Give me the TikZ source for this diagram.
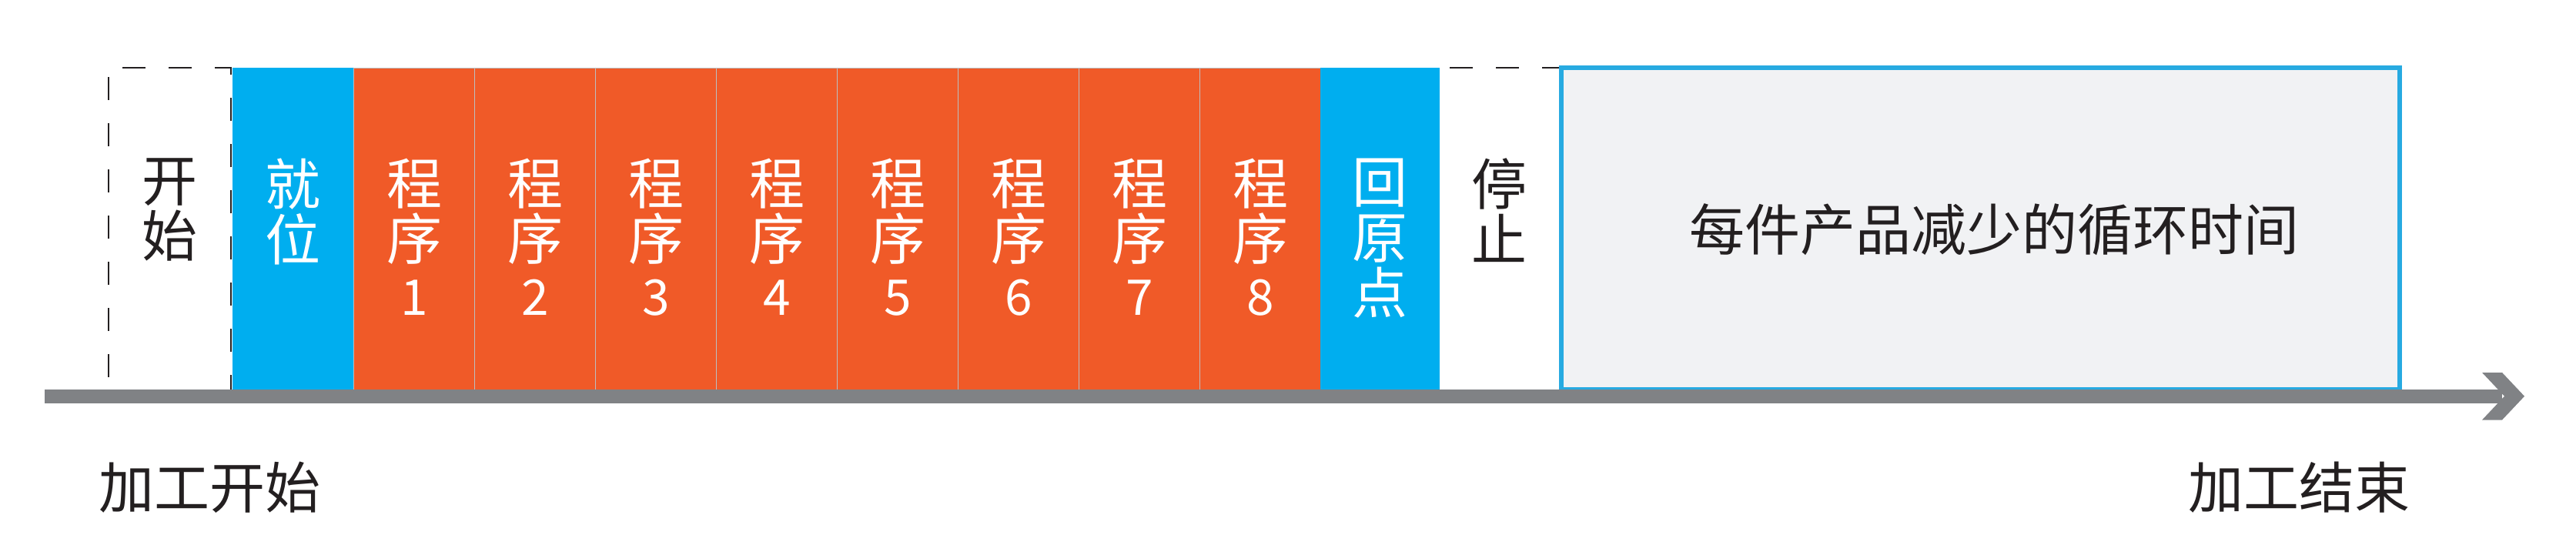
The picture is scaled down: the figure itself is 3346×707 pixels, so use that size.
\documentclass[tikz,border=0pt]{standalone}
\usepackage{fontspec}
\setmainfont{Noto Sans CJK SC}
\definecolor{procorange}{HTML}{F05A28}
\definecolor{stepblue}{HTML}{00AEEF}
\definecolor{axisgray}{HTML}{808285}
\definecolor{savedfill}{HTML}{F1F2F4}
\definecolor{savedline}{HTML}{27AAE1}
\definecolor{inkdark}{HTML}{231F20}
\definecolor{sepgray}{HTML}{BCBEC0}
\tikzset{
  slot/.style={rectangle, inner sep=0, outer sep=0, minimum height=104.5pt},
  procbox/.style={slot, fill=procorange, draw=sepgray, line width=0.25pt, minimum width=39.25pt},
  bluebox/.style={slot, fill=stepblue},
  vlabel/.style={inner sep=0, outer sep=0, anchor=north, align=center, text=white,
    font=\fontsize{18pt}{18pt}\selectfont},
  darklabel/.style={vlabel, text=inkdark},
  dashline/.style={draw=inkdark, line width=0.68pt, dash pattern=on 7.5pt off 7.5pt},
  biglabel/.style={inner sep=0, outer sep=0, text=inkdark, font=\fontsize{18pt}{18pt}\selectfont},
}
\newcommand{\dg}[1]{{\fontsize{16pt}{18pt}\selectfont #1}}
\begin{document}
\begin{tikzpicture}[x=0.25pt,y=-0.25pt]
\useasboundingbox (0,0) rectangle (3346,707);
% start (dashed)
\node[slot, minimum width=39.75pt] (start) at (220.5,297) {};
\draw[dashline, dash phase=11pt] (start.south west) -- (start.north west) -- (start.north east) -- (start.south east);
\node[darklabel] (startt) at ([yshift=-29.5pt]start.north) {开\\始};
% ready
\node[bluebox, minimum width=39.5pt] (ready) at (380.5,297) {};
\node[vlabel] (readyt) at ([yshift=-29.5pt]ready.north) {就\\位};
% programs
\foreach \i in {1,...,8} {
  \node[procbox] (p\i) at ({459.5+78.5+157*(\i-1)},297) {};
  \node[vlabel] (p\i t) at ([yshift=-29.5pt]p\i.north) {程\\序\\\dg{\i}};
}
% home
\node[bluebox, minimum width=38.75pt] (home) at (1792.5,297) {};
\node[vlabel] (homet) at ([yshift=-29.5pt]home.north) {回\\原\\点};
% stop
\node[slot, minimum width=38.75pt] (stop) at (1947.5,297) {};
\draw[dashline, dash phase=11.75pt] (stop.north west) -- (stop.north east);
\node[darklabel] (stopt) at ([yshift=-29.5pt]stop.north) {停\\止};
% saved time
\node[rectangle, inner sep=0, outer sep=0, fill=savedfill, draw=savedline, line width=1.5pt,
  minimum width=272.25pt, minimum height=104.625pt] (saved) at (2572.5,296.75) {};
\node[biglabel] (savedt) at (2590,298.5) {每件产品减少的循环时间};
% axis
\coordinate (axs) at (58,514.75);
\coordinate (axe) at (3279,514.75);
\fill[axisgray] (axs) ++(0,-8.75) rectangle (3250,523.5);
\fill[axisgray] (3224,484) -- (3250,484) -- (axe) -- (3250,545.5) -- (3224,545.5) -- (3253,514.75) -- cycle;
% labels
\node[biglabel] (lstart) at (272,633.5) {加工开始};
\node[biglabel] (lend) at (2986,633.5) {加工结束};
\end{tikzpicture}
\end{document}
